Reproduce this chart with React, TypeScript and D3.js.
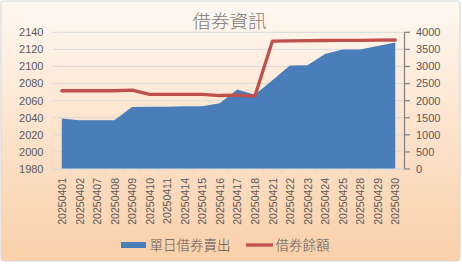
import React from "react";
import * as d3 from "d3";

const dates = ["20250401","20250402","20250407","20250408","20250409","20250410","20250411","20250414","20250415","20250416","20250417","20250418","20250421","20250422","20250423","20250424","20250425","20250428","20250429","20250430"];
const dailySales = [2039,2037,2037,2037,2052.5,2053,2053,2053.5,2053.5,2057,2073,2067,2084,2101,2101.5,2114.5,2120,2120,2124,2128];
const balance = [2290,2290,2290,2290,2310,2185,2185,2185,2185,2150,2160,2130,3740,3750,3755,3760,3765,3765,3770,3775];
const leftTicks = [1980,2000,2020,2040,2060,2080,2100,2120,2140];
const rightTicks = [0,500,1000,1500,2000,2500,3000,3500,4000];
const title = "借券資訊";
const seriesNames = ["單日借券賣出","借券餘額"];

const W = 462, H = 264;
const plot = { l: 53, r: 404, t: 32.3, b: 169 };
const numFont = "'Liberation Sans', Arial, sans-serif";
const cjkFont = "'Noto Sans CJK TC', sans-serif";

export default function App() {
  const x = d3.scaleBand<string>().domain(dates).range([plot.l, plot.r]);
  const cx = (d: string) => (x(d) as number) + x.bandwidth() / 2;
  const yL = d3.scaleLinear().domain([1980, 2140]).range([plot.b, plot.t]);
  const yR = d3.scaleLinear().domain([0, 4000]).range([plot.b, plot.t]);

  const area = d3.area<number>()
    .x((_, i) => cx(dates[i]))
    .y0(yL(1980))
    .y1((v) => yL(v))(dailySales) as string;
  const line = d3.line<number>()
    .x((_, i) => cx(dates[i]))
    .y((v) => yR(v))(balance) as string;

  const boundaries = d3.range(dates.length + 1).map((k) => plot.l + k * x.bandwidth());

  return (
    <div style={{ position: "fixed", left: 0, top: 0 }}>
      <svg width={W} height={H} style={{ display: "block" }}>
        <defs>
          <linearGradient id="bg" x1="0" y1="0" x2="0" y2="1">
            <stop offset="0" stopColor="#FFF8F2" />
            <stop offset="0.5" stopColor="#FCE3CC" />
            <stop offset="1" stopColor="#F9D0A9" />
          </linearGradient>
        </defs>
        <rect x={0} y={0} width={W} height={H} fill="#ffffff" />
        <rect x={1} y={1} width={W - 3} height={H - 4} rx={3} fill="url(#bg)" stroke="#D9D9D9" strokeWidth={1.2} />
        <text x={229.5} y={28} textAnchor="middle" fontFamily={cjkFont} fontWeight={300} fontSize={18.5} fill="#7A7A7A">{title}</text>
        {leftTicks.map((t) => (
          <g key={"l" + t}>
            <line x1={plot.l} x2={plot.r} y1={yL(t)} y2={yL(t)} stroke="#D9D9D9" strokeWidth={1} />
            <text x={43.5} y={yL(t)} dy="0.35em" textAnchor="end" fontFamily={numFont} fontSize={11} fill="#595959">{t}</text>
          </g>
        ))}
        <path d={area} fill="#4A7EBB" />
        <line x1={plot.l} x2={plot.r} y1={plot.b} y2={plot.b} stroke="#D9D9D9" strokeWidth={1} />
        {boundaries.map((bx, i) => (
          <line key={"b" + i} x1={bx} x2={bx} y1={plot.b} y2={plot.b + 4} stroke="#D9D9D9" strokeWidth={1} />
        ))}
        <path d={line} fill="none" stroke="#C0504D" strokeWidth={3.3} strokeLinejoin="round" strokeLinecap="round" />
        <line x1={plot.r + 0.5} x2={plot.r + 0.5} y1={plot.t} y2={plot.b} stroke="#868686" strokeWidth={1.3} />
        {rightTicks.map((t) => (
          <g key={"r" + t}>
            <line x1={plot.r + 0.5} x2={plot.r + 6} y1={yR(t)} y2={yR(t)} stroke="#868686" strokeWidth={1.3} />
            <text x={416} y={yR(t)} dy="0.35em" textAnchor="start" fontFamily={numFont} fontSize={11} fill="#595959">{t}</text>
          </g>
        ))}
        {dates.map((d) => (
          <text key={d} transform={`translate(${cx(d) + 0.5},178) rotate(-90)`} dy="0.35em" textAnchor="end" fontFamily={numFont} fontSize={10.5} fill="#595959">{d}</text>
        ))}
        <rect x={121} y={242} width={25} height={6} fill="#4A7EBB" />
        <text x={149.5} y={245} dy="0.35em" fontFamily={cjkFont} fontWeight={300} fontSize={13.5} fill="#595959">{seriesNames[0]}</text>
        <line x1={246} x2={273} y1={245} y2={245} stroke="#C0504D" strokeWidth={3.3} />
        <text x={275.5} y={245} dy="0.35em" fontFamily={cjkFont} fontWeight={300} fontSize={13.5} fill="#595959">{seriesNames[1]}</text>
      </svg>
    </div>
  );
}
